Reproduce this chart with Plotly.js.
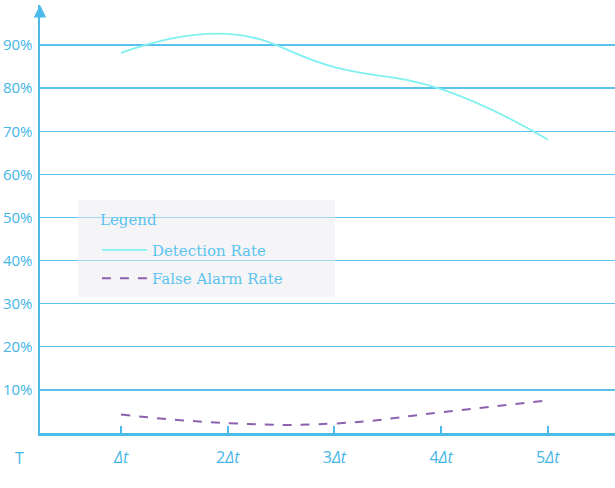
<!DOCTYPE html>
<html>
<head>
<meta charset="utf-8">
<script src="https://cdn.plot.ly/plotly-3.0.1.min.js"></script>
<style>html,body{margin:0;padding:0;background:#fff;}#chart{width:615px;height:488px;}</style>
</head>
<body>
<div id="chart"></div>
<script>
const steps = [1, 2, 3, 4, 5];
const stepLabels = ['<i>Δt</i>', '2<i>Δt</i>', '3<i>Δt</i>', '4<i>Δt</i>', '5<i>Δt</i>'];
const detectionRate = [88.2, 92.6, 84.9, 79.8, 68.1];
const falseAlarmRate = [4.3, 2.3, 2.2, 4.8, 7.6];
const yTicks = [10, 20, 30, 40, 50, 60, 70, 80, 90];
const yTickLabels = ['10%', '20%', '30%', '40%', '50%', '60%', '70%', '80%', '90%'];

const axisColor = '#4DBBEA';
const labelColor = '#45B6E6';
const legendFont = {family: 'DejaVu Serif, serif', size: 15, color: '#5CC3EE'};

const traces = [
  {
    x: steps, y: detectionRate, name: 'Detection Rate', type: 'scatter', mode: 'lines',
    legendgroup: 'a',
    line: {color: '#80F0F0', width: 1.8, shape: 'spline', smoothing: 1.3}
  },
  {
    x: steps, y: falseAlarmRate, name: 'False Alarm Rate', type: 'scatter', mode: 'lines',
    legendgroup: 'b',
    line: {color: '#8C62AE', width: 2, dash: 'dash', shape: 'spline', smoothing: 1.3}
  }
];

const layout = {
  width: 615, height: 488,
  margin: {l: 40, r: 0, t: 5, b: 55},
  paper_bgcolor: '#fff', plot_bgcolor: '#fff',
  showlegend: true,
  legend: {
    x: 0.099, y: 0.466, xanchor: 'left', yanchor: 'top',
    bgcolor: 'rgba(0,0,0,0)', borderwidth: 0,
    font: legendFont,
    itemwidth: 45, tracegroupgap: 6, traceorder: 'grouped'
  },
  shapes: [
    {type: 'rect', xref: 'paper', yref: 'paper', x0: 0.066, x1: 0.513, y0: 0.318, y1: 0.545,
     fillcolor: 'rgba(236,236,242,0.5)', line: {width: 0}, layer: 'above'}
  ],
  xaxis: {
    range: [0.24, 5.63],
    tickvals: steps, ticktext: stepLabels,
    ticks: 'inside', ticklen: 7, tickcolor: axisColor, tickwidth: 2,
    ticklabelstandoff: 8,
    showgrid: false, zeroline: false,
    showline: true, linecolor: axisColor, linewidth: 2.5,
    tickfont: {family: 'Open Sans, sans-serif', size: 16, color: labelColor},
    fixedrange: true
  },
  yaxis: {
    range: [0, 99.3],
    tickvals: yTicks, ticktext: yTickLabels,
    ticks: '', showgrid: true, gridcolor: '#5BC2EC', gridwidth: 1.4,
    zeroline: false, showline: true, linecolor: axisColor, linewidth: 2.5,
    ticklabelstandoff: 2,
    tickfont: {family: 'Open Sans, sans-serif', size: 15, color: labelColor},
    fixedrange: true
  },
  annotations: [
    {xref: 'paper', yref: 'paper', x: 0, y: 1, ax: 0, ay: 14, text: '',
     showarrow: true, arrowhead: 2, arrowsize: 1, arrowwidth: 2.5, arrowcolor: axisColor},
    {xref: 'paper', yref: 'paper', x: -0.035, y: -0.058, xanchor: 'center', yanchor: 'middle',
     text: 'T', showarrow: false,
     font: {family: 'Open Sans, sans-serif', size: 16, color: labelColor}},
    {xref: 'paper', yref: 'paper', x: 0.101, y: 0.497, xanchor: 'left', yanchor: 'middle',
     text: 'Legend', showarrow: false, font: legendFont}
  ]
};

Plotly.newPlot('chart', traces, layout, {displayModeBar: false, staticPlot: true});
</script>
</body>
</html>
